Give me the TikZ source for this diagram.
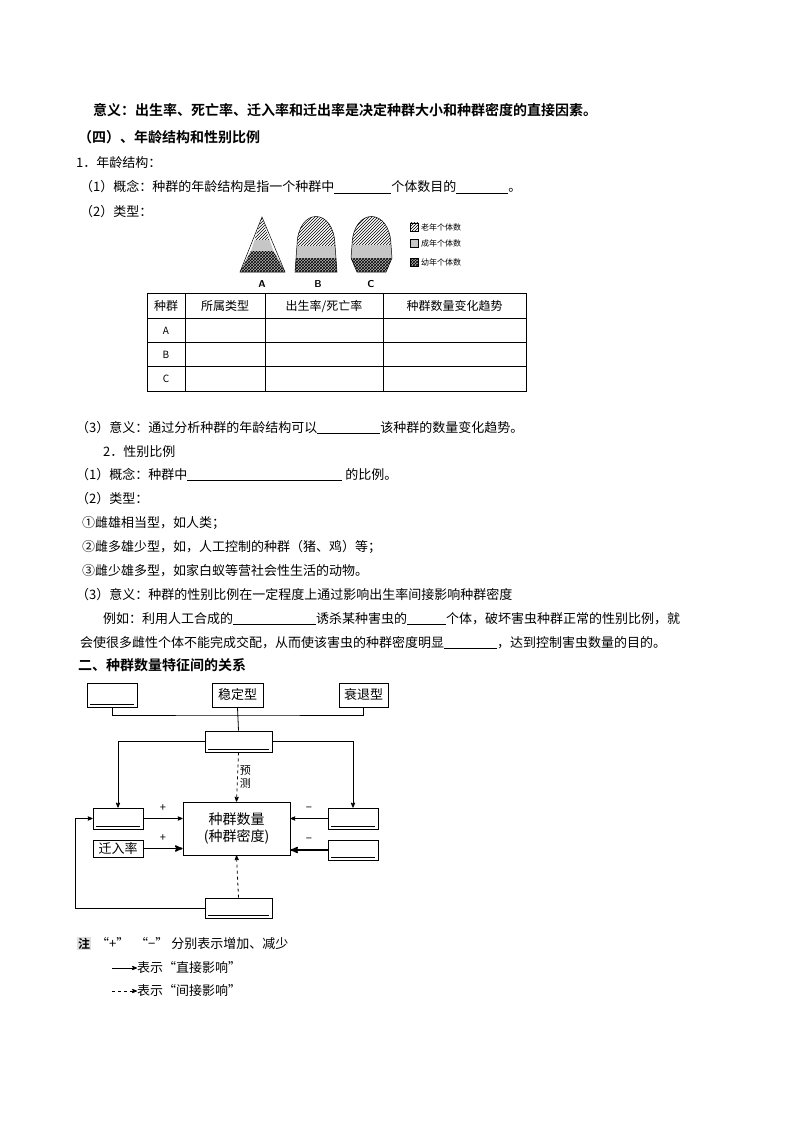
\documentclass[tikz,border=0pt]{standalone}
\usepackage{fontspec}
\setmainfont{Noto Sans CJK SC}[BoldFont={Noto Sans CJK SC Bold}]
\usetikzlibrary{arrows,patterns}
\tikzset{
  txt/.style={anchor=base west, inner sep=0pt, font=\fontsize{13}{15}\selectfont},
  ttl/.style={txt, font=\fontsize{14}{16}\selectfont\bfseries},
  cell/.style={inner sep=0pt, font=\fontsize{12}{14}\selectfont},
  leg/.style={anchor=west, inner sep=0pt, font=\fontsize{8}{9}\selectfont},
  box/.style={draw, line width=0.8pt, inner sep=0pt, font=\fontsize{13}{15}\selectfont},
  blank/.style={box, path picture={\draw[line width=0.8pt] ([xshift=3pt,yshift=2.5pt]path picture bounding box.south west) -- ([xshift=-3pt,yshift=2.5pt]path picture bounding box.south east);}},
  old/.style={pattern=north east lines},
  adult/.style={fill=gray!45},
  young/.style={fill=gray!60, postaction={pattern=crosshatch}},
}
\newcommand{\gap}[1]{\underline{\hspace{#1pt}}}
\begin{document}
\begin{tikzpicture}[x=1pt,y=-1pt,>=stealth']
\useasboundingbox (0,0) rectangle (794,1123);
% text lines
\node[ttl] (t1) at (93,116) {意义：出生率、死亡率、迁入率和迁出率是决定种群大小和种群密度的直接因素。};
\node[ttl] (t2) at (78,143) {（四）、年龄结构和性别比例};
\node[txt] (t3) at (76,168) {1．年龄结构：};
\node[txt] (t4) at (80,192) {（1）概念：种群的年龄结构是指一个种群中\gap{57}个体数目的\gap{52}。};
\node[txt] (t5) at (80,217) {（2）类型：};
\node[txt] (t6) at (76,432) {（3）意义：通过分析种群的年龄结构可以\gap{63}该种群的数量变化趋势。};
\node[txt] (t7) at (103,456) {2．性别比例};
\node[txt] (t8) at (76,479) {（1）概念：种群中\gap{155} 的比例。};
\node[txt] (t9) at (76,503) {（2）类型：};
\node[txt] (t10) at (82,527) {①雌雄相当型，如人类；};
\node[txt] (t11) at (82,551) {②雌多雄少型，如，人工控制的种群（猪、鸡）等；};
\node[txt] (t12) at (82,575) {③雌少雄多型，如家白蚁等营社会性生活的动物。};
\node[txt] (t13) at (76,599) {（3）意义：种群的性别比例在一定程度上通过影响出生率间接影响种群密度};
\node[txt] (t14) at (103,623) {例如：利用人工合成的\gap{83}诱杀某种害虫的\gap{39}个体，破坏害虫种群正常的性别比例，就};
\node[txt] (t15) at (80,647) {会使很多雌性个体不能完成交配，从而使该害虫的种群密度明显\gap{53}，达到控制害虫数量的目的。};
\node[ttl] (t16) at (78,670) {二、种群数量特征间的关系};
% age pyramids
\begin{scope}[line width=0.5pt]
\fill[old] (262,217) -- (254.5,240) -- (269.5,240) -- cycle;
\fill[adult] (254.5,240) -- (251,251) -- (273.5,251) -- (269.5,240) -- cycle;
\fill[young] (251,251) -- (240,272) -- (285,272) -- (273.5,251) -- cycle;
\draw (262,217) -- (240,272) -- (285,272) -- cycle;
\begin{scope}
\clip (295,272) -- (297,245) .. controls (298,207) and (334,207) .. (335,245) -- (337,272) -- cycle;
\fill[old] (290,205) rectangle (342,246);
\fill[adult] (290,246) rectangle (342,258);
\fill[young] (290,258) rectangle (342,272);
\end{scope}
\draw (295,272) -- (297,245) .. controls (298,207) and (334,207) .. (335,245) -- (337,272) -- cycle;
\begin{scope}
\clip (357,272) -- (351,258) -- (352,245) .. controls (353,207) and (390,207) .. (391,245) -- (392,258) -- (386,272) -- cycle;
\fill[old] (345,205) rectangle (397,245);
\fill[adult] (345,245) rectangle (397,258);
\fill[young] (345,258) rectangle (397,272);
\end{scope}
\draw (357,272) -- (351,258) -- (352,245) .. controls (353,207) and (390,207) .. (391,245) -- (392,258) -- (386,272) -- cycle;
\end{scope}
\node[cell, font=\fontsize{10}{11}\selectfont\bfseries\sffamily] (pa) at (262,284) {A};
\node[cell, font=\fontsize{10}{11}\selectfont\bfseries\sffamily] (pb) at (318,284) {B};
\node[cell, font=\fontsize{10}{11}\selectfont\bfseries\sffamily] (pc) at (371,284) {C};
\draw[old] (410,223) rectangle (418,231);
\draw[adult] (410,239) rectangle (418,247);
\draw[young] (410,258) rectangle (418,266);
\node[leg] (l1) at (421,227) {老年个体数};
\node[leg] (l2) at (421,243) {成年个体数};
\node[leg] (l3) at (421,262) {幼年个体数};
% table
\draw[line width=0.6pt] (147,293) rectangle (526,391);
\foreach \y in {318,342,366} \draw[line width=0.6pt] (147,\y) -- (526,\y);
\foreach \x in {185,265,383} \draw[line width=0.6pt] (\x,293) -- (\x,391);
\node[cell] (h1) at (166,306) {种群};
\node[cell] (h2) at (225,306) {所属类型};
\node[cell] (h3) at (324,306) {出生率/死亡率};
\node[cell] (h4) at (454.5,306) {种群数量变化趋势};
\node[cell, font=\fontsize{10}{11}\selectfont] (ra) at (166,331) {A};
\node[cell, font=\fontsize{10}{11}\selectfont] (rb) at (166,355) {B};
\node[cell, font=\fontsize{10}{11}\selectfont] (rc) at (166,379) {C};
% relation diagram
\node[blank, minimum width=50pt, minimum height=24pt] (grow) at (112,695) {};
\node[box, minimum width=51pt, minimum height=24pt] (stable) at (237.5,695) {稳定型};
\node[box, minimum width=49pt, minimum height=24pt] (decline) at (363.5,695) {衰退型};
\node[blank, minimum width=67pt, minimum height=21pt] (agestr) at (238.5,741.5) {};
\node[box, align=center, minimum width=107pt, minimum height=53pt, font=\fontsize{14}{17}\selectfont] (popn) at (236.5,828.5) {种群数量\\(种群密度)};
\node[blank, minimum width=50pt, minimum height=21pt] (birth) at (118,818.5) {};
\node[box, minimum width=50pt, minimum height=17pt] (immig) at (118,848.5) {迁入率};
\node[blank, minimum width=50pt, minimum height=21pt] (death) at (353,818.5) {};
\node[blank, minimum width=50pt, minimum height=20pt] (emig) at (353,850) {};
\node[blank, minimum width=67pt, minimum height=20pt] (sexr) at (238.5,908) {};
\draw[line width=0.8pt] (grow.south) |- (stable.south |- 0,715) -| (decline.south);
\draw[line width=0.8pt] (stable.south) -- (agestr.north);
\draw[->, line width=0.8pt] (agestr.west) -| (birth.north);
\draw[->, line width=0.8pt] (agestr.east) -| (death.north);
\draw[->, dashed, line width=0.8pt] (agestr.south) -- node[right, font=\fontsize{11}{13}\selectfont, align=center, inner sep=2pt] {预\\测} (popn.north);
\draw[->, line width=0.8pt] (birth.east) -- node[above=3pt, font=\fontsize{11}{12}\selectfont] {+} (birth.east -| popn.west);
\draw[->, line width=1.6pt] (immig.east) -- node[above=3pt, font=\fontsize{11}{12}\selectfont] {+} (immig.east -| popn.west);
\draw[->, line width=0.8pt] (death.west) -- node[above=3pt, font=\fontsize{11}{12}\selectfont] {−} (death.west -| popn.east);
\draw[->, line width=1.6pt] (emig.west) -- node[above=3pt, font=\fontsize{11}{12}\selectfont] {−} (emig.west -| popn.east);
\draw[->, dashed, line width=0.8pt] (sexr.north) -- (popn.south);
\draw[->, line width=0.8pt] (sexr.west) -- ++(-129,0) |- (birth.west);
% note
\node[txt, fill=gray!25, inner sep=1pt, font=\fontsize{12}{14}\selectfont\bfseries] (zhu) at (77,948) {注};
\node[txt] (n1) at (96,948) {“+”\ \ “−”\ 分别表示增加、减少};
\coordinate (s1) at (112,968);
\node[txt, anchor=west] (n2) at (137,968) {表示“直接影响”};
\draw[->, line width=0.8pt] (s1) -- (n2.west);
\coordinate (s2) at (112,991);
\node[txt, anchor=west] (n3) at (137,991) {表示“间接影响”};
\draw[->, dashed, line width=0.8pt] (s2) -- (n3.west);
\end{tikzpicture}
\end{document}
